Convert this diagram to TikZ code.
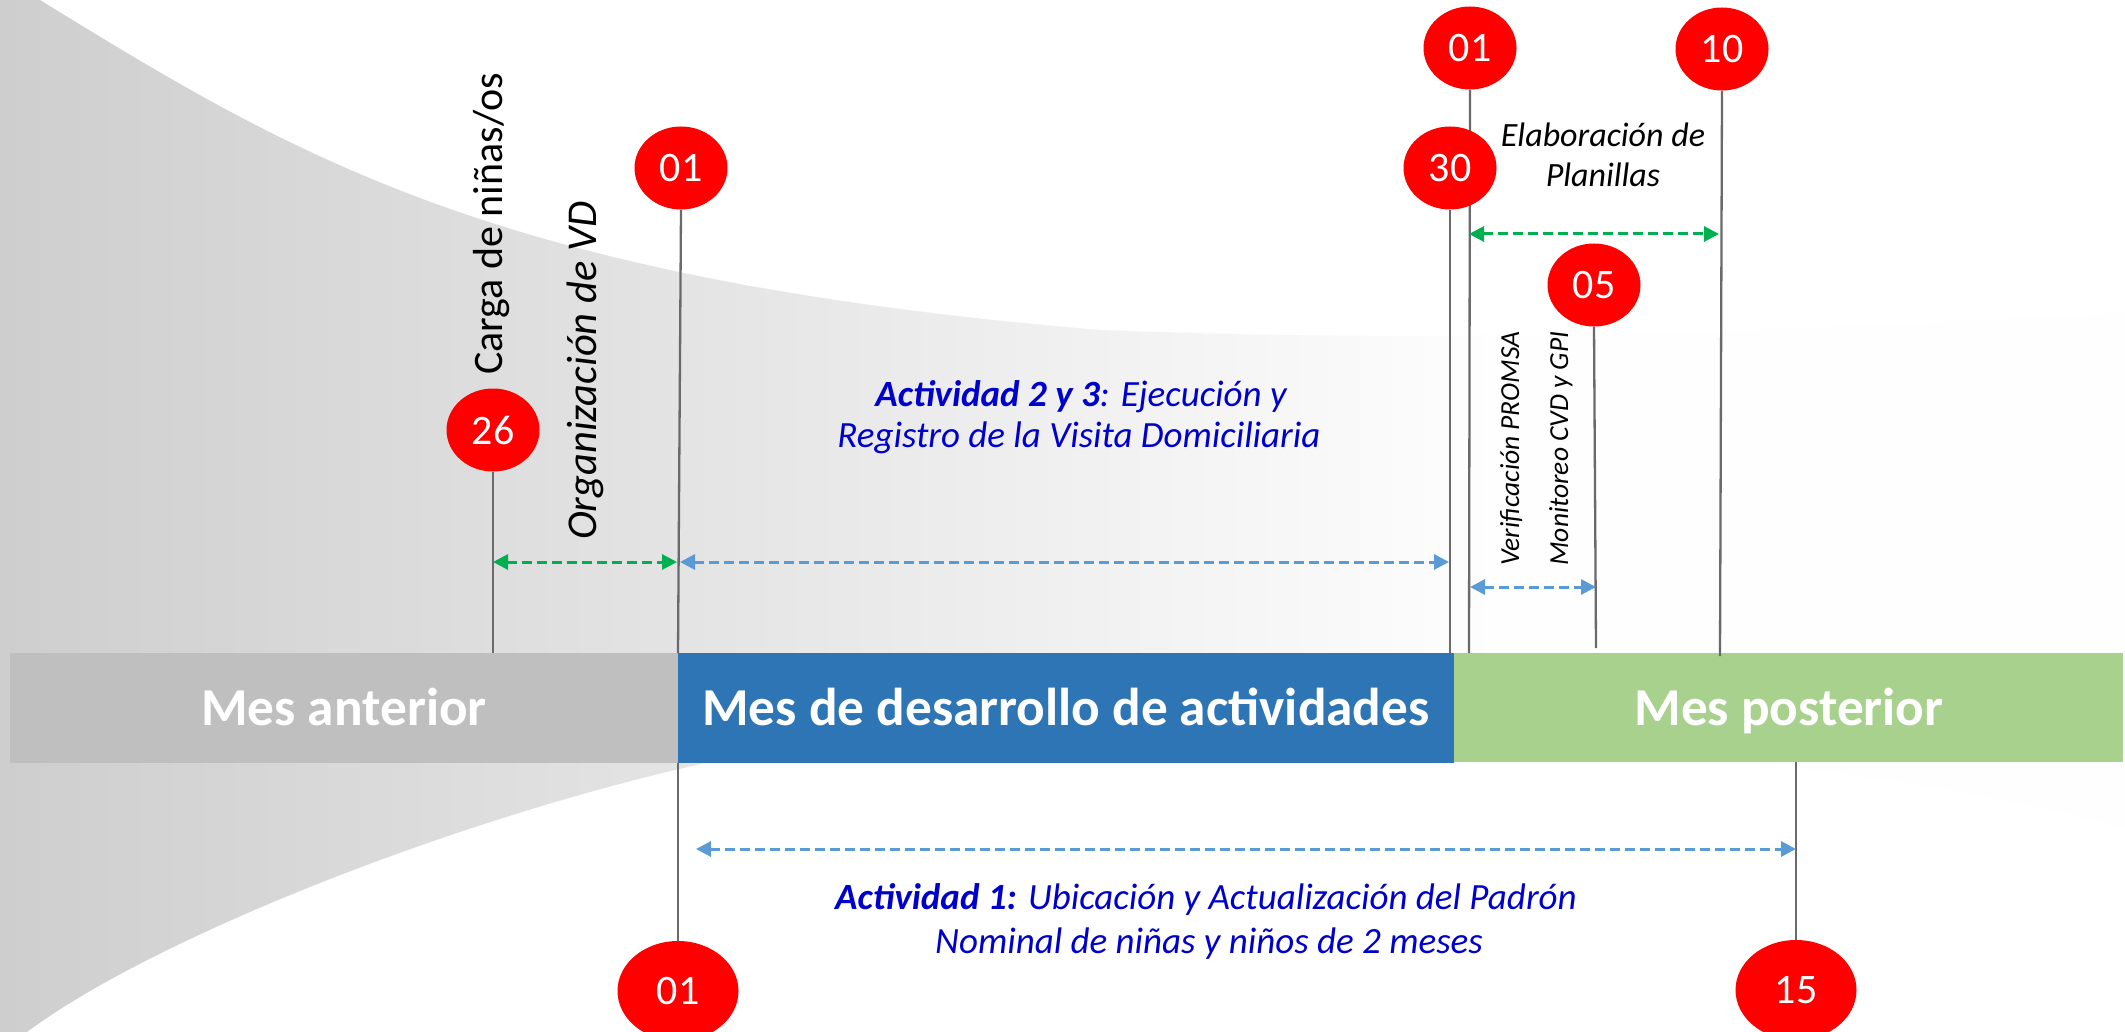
\documentclass[tikz,border=0pt]{standalone}
\usepackage{fontspec}
\setmainfont{Carlito}
\usetikzlibrary{arrows.meta,shapes.geometric}
\pgfdeclarelayer{back}
\pgfdeclarelayer{mid}
\pgfsetlayers{back,mid,main}
\definecolor{barGray}{HTML}{BFBFBF}
\definecolor{barBlue}{HTML}{2E75B6}
\definecolor{barGreen}{HTML}{A9D18E}
\definecolor{dotRed}{HTML}{FF0000}
\definecolor{stemGray}{HTML}{6A6A6A}
\definecolor{arrGreen}{HTML}{00B050}
\definecolor{arrBlue}{HTML}{5B9BD5}
\definecolor{txtBlue}{HTML}{0000CC}
\definecolor{bgLeft}{RGB}{206,206,206}
\definecolor{bgPale}{RGB}{254,254,254}
\tikzset{
  dot/.style={ellipse, fill=dotRed, minimum width=93pt, minimum height=83pt, inner sep=0pt,
    text=white, font=\fontsize{42}{50}\selectfont},
  bigdot/.style={dot, minimum width=121pt, minimum height=100pt},
  stem/.style={draw=stemGray, line width=2.3pt},
  span/.style={line width=3pt, dash pattern=on 10pt off 5pt,
    {Triangle[length=15pt,width=15pt]}-{Triangle[length=15pt,width=15pt]}},
  garrow/.style={span, draw=arrGreen},
  barrow/.style={span, draw=arrBlue},
  lbl/.style={inner sep=0pt, anchor=base},
  bluetext/.style={lbl, text=txtBlue, font=\fontsize{37}{42}\selectfont\itshape},
  bartext/.style={lbl, text=white, font=\fontsize{53.3}{60}\selectfont\bfseries},
}
\begin{document}
\begin{tikzpicture}[x=1pt, y=-1pt]
\useasboundingbox (0,0) rectangle (2125,1032);
\begin{pgfonlayer}{back}
\fill[white] (0,0) rectangle (2125,1032);
% background horn shape
\begin{scope}
\path[fill=bgPale] (0,0) -- (40,0) .. controls (300,160) and (500,280) .. (1100,330)
  .. controls (1500,345) and (1800,330) .. (2125,313) -- (2125,827)
  .. controls (1700,720) and (1000,700) .. (705,763)
  .. controls (450,820) and (150,940) .. (27,1032) -- (0,1032) -- cycle;
\clip (0,0) -- (40,0) .. controls (300,160) and (500,280) .. (1100,330)
  .. controls (1500,345) and (1800,330) .. (2125,313) -- (2125,827)
  .. controls (1700,720) and (1000,700) .. (705,763)
  .. controls (450,820) and (150,940) .. (27,1032) -- (0,1032) -- cycle;
\shade[left color=bgLeft, right color=bgPale] (0,0) rectangle (1500,1032);
\end{scope}
% bars
\fill[barGray] (10,653) rectangle (677.5,763);
\fill[barBlue] (677.5,653) rectangle (1454,763);
\fill[barGreen] (1454,653) rectangle (2123,762);
\end{pgfonlayer}
\node[bartext] (mesant) at (344,725) {Mes anterior};
\node[bartext] (mesdes) at (1066,725) {Mes de desarrollo de actividades};
\node[bartext] (mespos) at (1789,725) {Mes posterior};
% dots
\node[dot] (d26) at (493,430) {26};
\node[dot] (d01a) at (681,168) {01};
\node[dot] (d01b) at (1470,48) {01};
\node[dot] (d10) at (1722,49) {10};
\node[dot] (d05) at (1594,285) {05};
\node[dot] (d30) at (1450,168) {30};
\node[bigdot] (d01c) at (678,991) {01};
\node[bigdot] (d15) at (1796,990) {15};
% stem ends
\coordinate (s26) at (493,653);
\coordinate (s01a) at (678,653);
\coordinate (s30) at (1450,653);
\coordinate (s01b) at (1469,653);
\coordinate (s05) at (1596,648);
\coordinate (s10) at (1720,656);
\coordinate (s01c) at (678,763);
\coordinate (s15) at (1796,762);
% arrow ends
\coordinate (g1l) at (493,562);
\coordinate (g1r) at (677,562);
\coordinate (b2l) at (680,562);
\coordinate (b2r) at (1449,562);
\coordinate (g3l) at (1469,234);
\coordinate (g3r) at (1719,234);
\coordinate (b4l) at (1470,587);
\coordinate (b4r) at (1596,587);
\coordinate (b5l) at (696,849);
\coordinate (b5r) at (1796,849);
\begin{pgfonlayer}{mid}
\draw[stem] (d26.south) -- (s26);
\draw[stem] (d01a.south) -- (s01a);
\draw[stem] (d01b.south) -- (s01b);
\draw[stem] (d10.south) -- (s10);
\draw[stem] (d05.south) -- (s05);
\draw[stem] (d30.south) -- (s30);
\draw[stem] (s01c) -- (d01c.north);
\draw[stem] (s15) -- (d15.north);
\draw[garrow] (g1l) -- (g1r);
\draw[barrow] (b2l) -- (b2r);
\draw[garrow] (g3l) -- (g3r);
\draw[barrow] (b4l) -- (b4r);
\draw[barrow] (b5l) -- (b5r);
\end{pgfonlayer}
% labels
\node[lbl, font=\fontsize{42}{50}\selectfont, rotate=90, anchor=base west] (carga) at (502,375) {Carga de niñas/os};
\node[lbl, font=\fontsize{42.5}{50}\selectfont\itshape, rotate=90, anchor=base west] (orga) at (596,540) {Organización de VD};
\node[lbl, font=\fontsize{34}{40}\selectfont\itshape] (elab1) at (1603,147) {Elaboración de};
\node[lbl, font=\fontsize{34}{40}\selectfont\itshape] (elab2) at (1603,187) {Planillas};
\node[lbl, font=\fontsize{27.5}{33}\selectfont\itshape, rotate=90] (verif) at (1519,448.5) {Verificación PROMSA};
\node[lbl, font=\fontsize{27.5}{33}\selectfont\itshape, rotate=90] (monit) at (1568,448.5) {Monitoreo CVD y GPI};
\node[bluetext] (act2a) at (1081,406) {\textbf{Actividad 2 y 3}: Ejecución y};
\node[bluetext] (act2b) at (1079,447) {Registro de la Visita Domiciliaria};
\node[bluetext] (act1a) at (1206,909) {\textbf{Actividad 1:} Ubicación y Actualización del Padrón};
\node[bluetext] (act1b) at (1209,953) {Nominal de niñas y niños de 2 meses};
\end{tikzpicture}
\end{document}
